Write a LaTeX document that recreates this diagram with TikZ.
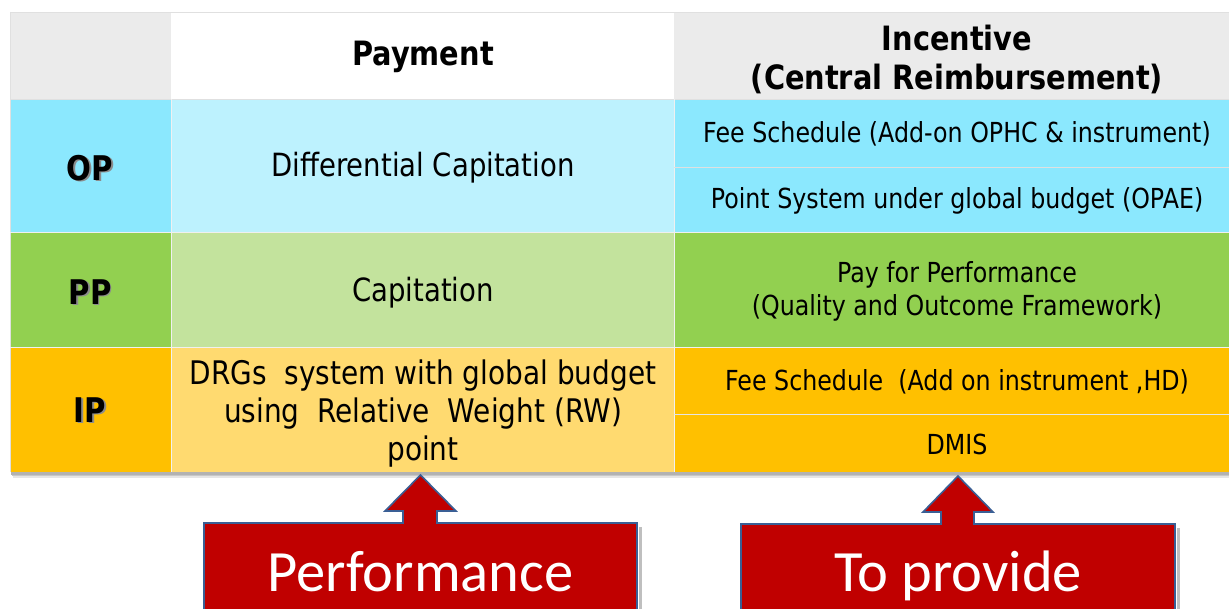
\documentclass[tikz,border=0pt]{standalone}
\usepackage{fontspec}
\setmainfont{DejaVu Sans}[FakeStretch=0.86]
\newfontfamily\calfont{Carlito}
\definecolor{hdrgray}{HTML}{EBEBEB}
\definecolor{opdark}{HTML}{8BE8FE}
\definecolor{oplight}{HTML}{BDF2FE}
\definecolor{ppdark}{HTML}{92D050}
\definecolor{pplight}{HTML}{C3E39D}
\definecolor{ipdark}{HTML}{FFC000}
\definecolor{iplight}{HTML}{FFDA70}
\definecolor{callred}{HTML}{C00000}
\definecolor{callblue}{HTML}{3A5F95}
\tikzset{
  body/.style={font=\fontsize{32}{37}\selectfont, align=center, text=black, inner sep=0pt},
  small/.style={font=\fontsize{27.6}{33}\selectfont, align=center, text=black, inner sep=0pt},
  hdr/.style={font=\bfseries\fontsize{33.5}{39}\selectfont, align=center, text=black, inner sep=0pt},
  rowlab/.style={font=\bfseries\fontsize{34}{36}\selectfont, text=black, inner sep=0pt},
  rowshadow/.style={font=\bfseries\fontsize{34}{36}\selectfont, text=black!45, inner sep=0pt},
  callout/.style={fill=callred, draw=callblue, line width=1.6pt, line join=miter},
  calltext/.style={font=\calfont\fontsize{58.5}{62}\selectfont, text=white, inner sep=0pt, anchor=base},
  sepline/.style={draw=black!12, line width=0.8pt}
}
\begin{document}
\begin{tikzpicture}[x=1pt,y=-1pt]
\clip (0,0) rectangle (1229,609);
\fill[white] (0,0) rectangle (1229,609);
% table shadow
\fill[black!10] (13,18) rectangle (1232,478);
\fill[black!22] (12,16) rectangle (1232,476);
\fill[black!30] (11,14) rectangle (1232,474.5);
% header row
\fill[hdrgray] (10,12) rectangle (171,99);
\fill[white] (171,12) rectangle (674,99);
\fill[hdrgray] (674,12) rectangle (1229,99);
% OP row
\fill[opdark] (10,99) rectangle (171,232);
\fill[oplight] (171,99) rectangle (674,232);
\fill[opdark] (674,99) rectangle (1229,232);
% PP row
\fill[ppdark] (10,232) rectangle (171,347);
\fill[pplight] (171,232) rectangle (674,347);
\fill[ppdark] (674,232) rectangle (1229,347);
% IP row
\fill[ipdark] (10,347) rectangle (171,472);
\fill[iplight] (171,347) rectangle (674,472);
\fill[ipdark] (674,347) rectangle (1229,472);
% separators
\draw[sepline] (10,12) -- (1229,12);
\draw[sepline] (10,12) -- (10,472);
\draw[sepline] (10,99) -- (1229,99);
\draw[draw=black!6, line width=0.6pt] (10,232) -- (1229,232);
\draw[draw=black!6, line width=0.6pt] (10,347) -- (1229,347);
\draw[draw=black!6, line width=0.6pt] (171,99) -- (171,472);
\draw[draw=black!6, line width=0.6pt] (674,99) -- (674,472);
\draw[draw=black!12, line width=0.8pt] (674,167) -- (1229,167);
\draw[draw=black!10, line width=0.8pt] (674,414) -- (1229,414);
% header texts
\node[hdr] (payment) at (423,57) {Payment};
\node[hdr] (incentive) at (957,59) {Incentive\\(Central Reimbursement)};
% row labels with shadow
\node[rowshadow] at (91.5,169.5) {OP};
\node[rowlab] (op) at (90,168) {OP};
\node[rowshadow] at (91.5,293.5) {PP};
\node[rowlab] (pp) at (90,292) {PP};
\node[rowshadow] at (91.5,411.5) {IP};
\node[rowlab] (ip) at (90,410) {IP};
% payment column
\node[body] (diffcap) at (423,168) {Differential Capitation};
\node[body] (cap) at (423,293) {Capitation};
\node[body, font=\fontsize{32.5}{38}\selectfont] (drg) at (423,413.5) {DRGs\ \ system with global budget\\using\ \ Relative\ \ Weight (RW)\\point};
% incentive column
\node[small] (fee1) at (957,134) {Fee Schedule (Add-on OPHC \& instrument)};
\node[small] (point) at (957,201) {Point System under global budget (OPAE)};
\node[small] (p4p) at (957,291) {Pay for Performance\\(Quality and Outcome Framework)};
\node[small] (fee2) at (957,382) {Fee Schedule\ \ (Add on instrument ,HD)};
\node[small] (dmis) at (957,444) {DMIS};
% callout shadows
\fill[black!25] (639,527) rectangle (642,615);
\fill[black!25] (1177,528) rectangle (1180,615);
% callouts
\draw[callout] (204,620) -- (204,523) -- (403,523) -- (403,511) -- (385,511) -- (420.5,475) -- (456,511) -- (437,511) -- (437,523) -- (637,523) -- (637,620) -- cycle;
\draw[callout] (741,620) -- (741,524) -- (941,524) -- (941,512) -- (923,512) -- (958,476) -- (993,512) -- (974,512) -- (974,524) -- (1175,524) -- (1175,620) -- cycle;
\node[calltext] (perf) at (420.5,591) {Performance};
\node[calltext] (prov) at (958,591) {To provide};
\end{tikzpicture}
\end{document}
